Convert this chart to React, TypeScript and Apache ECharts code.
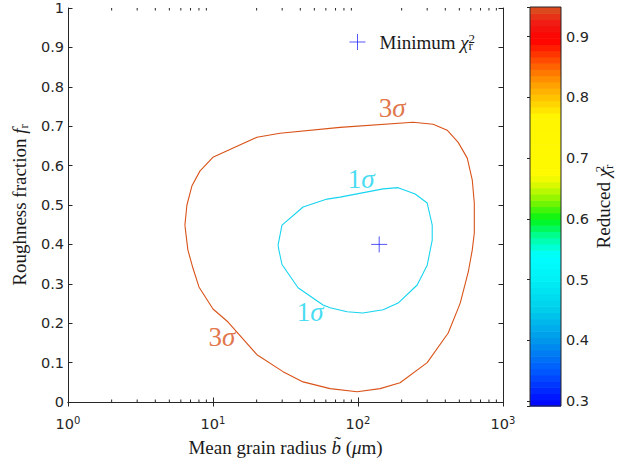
import React, { useEffect, useRef } from 'react';
import * as echarts from 'echarts';

// 3σ confidence contour (mean grain radius in µm, roughness fraction)
const RADIUS_3SIGMA = [6.4, 6.61, 7.15, 8.12, 9.98, 20.1, 29.0, 75.2, 240, 330, 412, 491, 567, 614, 634, 634, 614, 576, 507, 419, 300, 195, 142, 98.6, 64.2, 41.8, 30.4, 20.1, 12.7, 10.0, 8.0, 7.27, 6.71, 6.4];
const ROUGHNESS_3SIGMA = [0.449, 0.5, 0.548, 0.586, 0.621, 0.672, 0.682, 0.697, 0.71, 0.705, 0.69, 0.659, 0.619, 0.563, 0.505, 0.429, 0.386, 0.33, 0.251, 0.175, 0.1, 0.049, 0.034, 0.026, 0.034, 0.051, 0.077, 0.12, 0.203, 0.236, 0.292, 0.34, 0.386, 0.449];

// 1σ confidence contour
const RADIUS_1SIGMA = [28.1, 29.9, 41.8, 61.2, 75.2, 149, 189, 248, 300, 325, 325, 300, 256, 189, 149, 108, 84.1, 64.2, 57.4, 38.6, 29.9, 28.5, 28.1];
const ROUGHNESS_1SIGMA = [0.398, 0.449, 0.495, 0.515, 0.52, 0.541, 0.544, 0.528, 0.505, 0.449, 0.411, 0.347, 0.297, 0.251, 0.234, 0.226, 0.229, 0.239, 0.246, 0.29, 0.349, 0.385, 0.398];

// best fit (minimum reduced chi-square)
const MIN_RADIUS = [140];
const MIN_ROUGHNESS = [0.4];

// contour level annotations
const LEVEL_TEXT = ['3', '1', '1', '3'];
const LEVEL_RADIUS = [172, 105, 46.7, 11.5];
const LEVEL_ROUGHNESS = [0.745, 0.566, 0.229, 0.166];

// colour bar range of the reduced chi-square
const CHI2_MIN = 0.2918;
const CHI2_MAX = 0.949;

// minor ticks of the logarithmic x axis
const MINOR_TICKS = [2, 3, 4, 5, 6, 7, 8, 9, 20, 30, 40, 50, 60, 70, 80, 90, 200, 300, 400, 500, 600, 700, 800, 900];

// colormap stops: [value, r, g, b]
const CMAP_STOPS: number[][] = [
  [0.2918, 0, 0, 255],
  [0.35, 0, 90, 255],
  [0.4, 0, 150, 235],
  [0.45, 0, 205, 235],
  [0.5, 0, 240, 245],
  [0.54, 0, 255, 255],
  [0.57, 0, 255, 160],
  [0.6, 0, 245, 20],
  [0.63, 130, 245, 0],
  [0.66, 230, 250, 0],
  [0.675, 255, 250, 0],
  [0.77, 255, 245, 0],
  [0.8, 255, 195, 0],
  [0.83, 255, 145, 0],
  [0.86, 255, 80, 0],
  [0.895, 255, 0, 0],
  [0.925, 240, 30, 20],
  [0.949, 215, 85, 30],
];

const AXIS_COLOR = '#262626';
const TEXT_COLOR = '#1a1a1a';
const ORANGE = '#D95319';
const CYAN = '#17D4EF';
const BLUE = '#2a2aff';
const SANS = '"DejaVu Sans", "Liberation Sans", sans-serif';
const SERIF = '"Liberation Serif", "Times New Roman", serif';
const PLUS_PATH = 'path://M8,0L8,16M0,8L16,8';
const TITLE_SIZE = 19;

function colorAt(v: number): string {
  let k = 0;
  while (k < CMAP_STOPS.length - 2 && v > CMAP_STOPS[k + 1][0]) k++;
  const a = CMAP_STOPS[k];
  const b = CMAP_STOPS[k + 1];
  const t = Math.max(0, Math.min(1, (v - a[0]) / (b[0] - a[0])));
  const c = [1, 2, 3].map((i) => Math.round(a[i] + (b[i] - a[i]) * t));
  return `rgb(${c[0]},${c[1]},${c[2]})`;
}

const mathRich = {
  i: { fontFamily: SERIF, fontStyle: 'italic', fontSize: TITLE_SIZE, color: TEXT_COLOR },
  sup: { fontFamily: SERIF, fontSize: 13, color: TEXT_COLOR, width: 0, verticalAlign: 'top', lineHeight: 12 },
  sub: { fontFamily: SERIF, fontSize: 13, color: TEXT_COLOR, verticalAlign: 'bottom', lineHeight: 12 },
};

export default function App() {
  const ref = useRef<HTMLDivElement>(null);

  useEffect(() => {
    if (!ref.current) return;
    const chart = echarts.init(ref.current, null, { renderer: 'svg' });

    const nameStyle = {
      fontFamily: SERIF,
      fontSize: TITLE_SIZE,
      color: TEXT_COLOR,
      lineHeight: 22,
      rich: mathRich,
    };

    const levelLabels = LEVEL_TEXT.map((t, k) => {
      const color = t === '3' ? ORANGE : CYAN;
      return {
        value: [LEVEL_RADIUS[k], LEVEL_ROUGHNESS[k]],
        label: {
          show: true,
          position: 'inside',
          formatter: `{d|${t}}{s|σ}`,
          rich: {
            d: { fontFamily: SERIF, fontSize: 27, color },
            s: { fontFamily: SERIF, fontStyle: 'italic', fontSize: 27, color },
          },
        },
      };
    });

    const option = {
      animation: false,
      backgroundColor: '#ffffff',
      grid: [
        { left: 68, top: 8, width: 435, height: 394, outerBoundsMode: 'none' },
        { left: 530, top: 7, width: 31, height: 399, outerBoundsMode: 'none' },
      ],
      legend: {
        data: [
          {
            name: 'Minimum',
            icon: PLUS_PATH,
            itemStyle: { color: 'transparent', borderColor: BLUE, borderWidth: 1 },
          },
        ],
        left: 344,
        top: 27,
        itemWidth: 16,
        itemHeight: 16,
        selectedMode: false,
        formatter: () => 'Minimum {i|χ}{sup|2}{sub|r}',
        textStyle: {
          fontFamily: SERIF,
          fontSize: TITLE_SIZE,
          color: TEXT_COLOR,
          lineHeight: 20,
          padding: [0, 0, 0, 9],
          rich: mathRich,
        },
      },
      xAxis: [
        {
          type: 'log',
          logBase: 10,
          min: 1,
          max: 1000,
          gridIndex: 0,
          position: 'bottom',
          axisLine: { show: true, lineStyle: { color: AXIS_COLOR, width: 1 } },
          axisTick: { show: true, inside: true, length: 4.5, lineStyle: { color: AXIS_COLOR } },
          splitLine: { show: false },
          axisLabel: {
            margin: 13,
            formatter: (v: number) => `{b|10}{e|${Math.round(Math.log10(v))}}`,
            rich: {
              b: { fontFamily: SANS, fontSize: 14.5, color: AXIS_COLOR, lineHeight: 18 },
              e: { fontFamily: SANS, fontSize: 10, color: AXIS_COLOR, verticalAlign: 'top', lineHeight: 10 },
            },
          },
          name: 'Mean grain radius {i|b\u0303} ({i|μ}m)',
          nameLocation: 'middle',
          nameGap: 33,
          nameTextStyle: nameStyle,
        },
        {
          type: 'log',
          logBase: 10,
          min: 1,
          max: 1000,
          gridIndex: 0,
          position: 'top',
          axisLine: { show: true, lineStyle: { color: AXIS_COLOR, width: 1 } },
          axisTick: { show: true, inside: true, length: 4.5, lineStyle: { color: AXIS_COLOR } },
          axisLabel: { show: false },
          splitLine: { show: false },
        },
        {
          type: 'value',
          min: 0,
          max: 1,
          gridIndex: 1,
          show: false,
        },
      ],
      yAxis: [
        {
          type: 'value',
          min: 0,
          max: 1,
          interval: 0.1,
          gridIndex: 0,
          position: 'left',
          axisLine: { show: true, lineStyle: { color: AXIS_COLOR, width: 1 } },
          axisTick: { show: true, inside: true, length: 4.5, lineStyle: { color: AXIS_COLOR } },
          splitLine: { show: false },
          axisLabel: { fontFamily: SANS, fontSize: 14.5, color: AXIS_COLOR, margin: 4 },
          name: 'Roughness fraction {i|f}{sub|r}',
          nameLocation: 'middle',
          nameGap: 31,
          nameTextStyle: nameStyle,
        },
        {
          type: 'value',
          min: 0,
          max: 1,
          interval: 0.1,
          gridIndex: 0,
          position: 'right',
          axisLine: { show: true, lineStyle: { color: AXIS_COLOR, width: 1 } },
          axisTick: { show: true, inside: true, length: 4.5, lineStyle: { color: AXIS_COLOR } },
          axisLabel: { show: false },
          splitLine: { show: false },
        },
        {
          type: 'value',
          min: CHI2_MIN,
          max: CHI2_MAX,
          splitNumber: 7,
          gridIndex: 1,
          position: 'right',
          axisLine: { show: false },
          axisTick: { show: true, inside: true, length: 3, lineStyle: { color: AXIS_COLOR } },
          splitLine: { show: false },
          axisLabel: {
            fontFamily: SANS,
            fontSize: 14.5,
            color: AXIS_COLOR,
            margin: 5,
            formatter: (v: number) => {
              const r = Math.round(v * 10) / 10;
              return Math.abs(v - r) < 1e-6 ? r.toFixed(1) : '';
            },
          },
          name: 'Reduced {i|χ}{sup|2}{sub|r}',
          nameLocation: 'middle',
          nameRotate: 90,
          nameGap: 30,
          nameTextStyle: nameStyle,
        },
      ],
      series: [
        {
          name: '3sigma',
          type: 'line',
          xAxisIndex: 0,
          yAxisIndex: 0,
          data: RADIUS_3SIGMA.map((x, k) => [x, ROUGHNESS_3SIGMA[k]]),
          showSymbol: false,
          symbol: 'none',
          lineStyle: { color: ORANGE, width: 1.1 },
          silent: true,
          z: 3,
        },
        {
          name: '1sigma',
          type: 'line',
          xAxisIndex: 0,
          yAxisIndex: 0,
          data: RADIUS_1SIGMA.map((x, k) => [x, ROUGHNESS_1SIGMA[k]]),
          showSymbol: false,
          symbol: 'none',
          lineStyle: { color: CYAN, width: 1.1 },
          silent: true,
          z: 3,
        },
        {
          name: 'Minimum',
          type: 'scatter',
          xAxisIndex: 0,
          yAxisIndex: 0,
          data: MIN_RADIUS.map((x, k) => [x, MIN_ROUGHNESS[k]]),
          symbol: PLUS_PATH,
          symbolSize: 16,
          itemStyle: { color: 'transparent', borderColor: BLUE, borderWidth: 1 },
          silent: true,
          z: 4,
        },
        {
          name: 'levels',
          type: 'scatter',
          xAxisIndex: 0,
          yAxisIndex: 0,
          data: levelLabels,
          symbolSize: 1,
          itemStyle: { color: 'transparent' },
          silent: true,
          z: 5,
        },
        {
          name: 'minorTicks',
          type: 'custom',
          xAxisIndex: 0,
          yAxisIndex: 0,
          data: MINOR_TICKS.map((v) => [v, 0]),
          encode: { x: 0, y: 1 },
          silent: true,
          renderItem: (params: any, api: any) => {
            const x = api.coord([api.value(0), 0])[0];
            const cs = params.coordSys;
            const style = { stroke: AXIS_COLOR, lineWidth: 1 };
            return {
              type: 'group',
              children: [
                { type: 'line', shape: { x1: x, y1: cs.y + cs.height, x2: x, y2: cs.y + cs.height - 2.5 }, style },
                { type: 'line', shape: { x1: x, y1: cs.y, x2: x, y2: cs.y + 2.5 }, style },
              ],
            };
          },
        },
        {
          name: 'colorbar',
          type: 'custom',
          xAxisIndex: 2,
          yAxisIndex: 2,
          data: [[0, CHI2_MIN]],
          encode: { x: 0, y: 1 },
          silent: true,
          z: 1,
          renderItem: (params: any, api: any) => {
            const n = 64;
            const children: any[] = [];
            for (let k = 0; k < n; k++) {
              const v0 = CHI2_MIN + ((CHI2_MAX - CHI2_MIN) * k) / n;
              const v1 = CHI2_MIN + ((CHI2_MAX - CHI2_MIN) * (k + 1)) / n;
              const p0 = api.coord([0, v0]);
              const p1 = api.coord([1, v1]);
              children.push({
                type: 'rect',
                shape: { x: p0[0], y: p1[1], width: p1[0] - p0[0], height: p0[1] - p1[1] + 0.6 },
                style: { fill: colorAt((v0 + v1) / 2) },
              });
            }
            const a = api.coord([0, CHI2_MIN]);
            const b = api.coord([1, CHI2_MAX]);
            children.push({
              type: 'rect',
              shape: { x: a[0], y: b[1], width: b[0] - a[0], height: a[1] - b[1] },
              style: { fill: 'none', stroke: AXIS_COLOR, lineWidth: 1 },
            });
            return { type: 'group', children };
          },
        },
      ],
    };

    chart.setOption(option as any);
    return () => chart.dispose();
  }, []);

  return (
    <div
      ref={ref}
      style={{ position: 'absolute', left: 0, top: 0, width: 634, height: 464, background: '#fff' }}
    />
  );
}
